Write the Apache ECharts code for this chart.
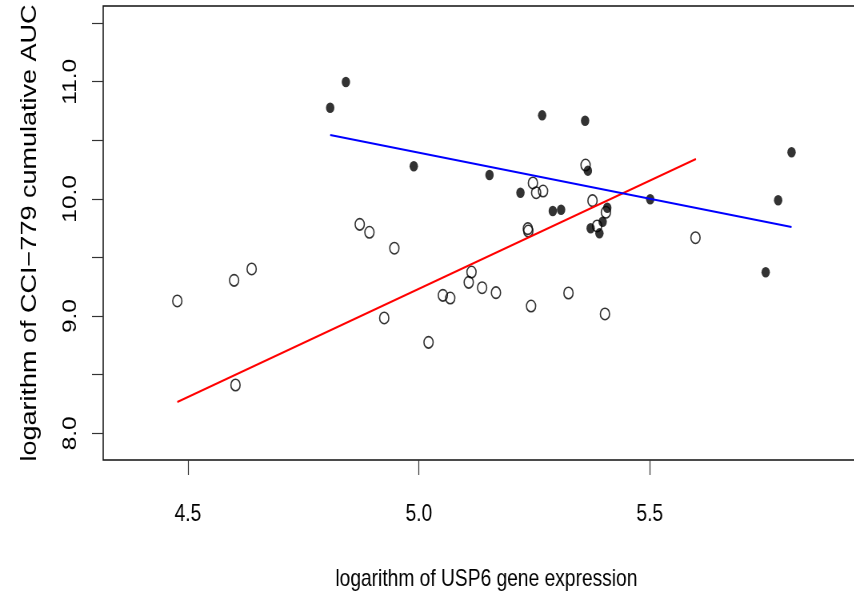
<!DOCTYPE html>
<html>
<head>
<meta charset="utf-8">
<script src="https://cdn.jsdelivr.net/npm/echarts@6/dist/echarts.min.js"></script>
<style>
  html, body { margin: 0; padding: 0; background: #fff; overflow: hidden; }
  /* the original figure is squeezed horizontally; draw wide and scale it down */
  #chart { width: 1100px; height: 597px; transform: scaleX(0.8); transform-origin: 0 0; }
</style>
</head>
<body>
<div id="chart"></div>
<script>
// open circles (group 1)
var openX = [4.477, 4.600, 4.638, 4.603, 4.872, 4.893, 4.947, 4.925, 5.021, 5.052,
             5.068, 5.108, 5.114, 5.137, 5.167, 5.243, 5.324, 5.403, 5.236, 5.237,
             5.247, 5.254, 5.269, 5.361, 5.376, 5.405, 5.386, 5.599];
var openY = [9.129, 9.305, 9.402, 8.412, 9.783, 9.715, 9.579, 8.984, 8.776, 9.177,
             9.154, 9.288, 9.376, 9.242, 9.200, 9.086, 9.197, 9.018, 9.746, 9.726,
             10.136, 10.053, 10.067, 10.289, 9.985, 9.886, 9.769, 9.669];
// filled circles (group 2)
var filledX = [4.808, 4.842, 4.989, 5.153, 5.267, 5.360, 5.366, 5.220, 5.290, 5.308,
               5.408, 5.398, 5.372, 5.391, 5.501, 5.807, 5.778, 5.751];
var filledY = [10.778, 10.997, 10.278, 10.204, 10.713, 10.667, 10.241, 10.053, 9.897, 9.908,
               9.925, 9.805, 9.749, 9.706, 9.997, 10.398, 9.988, 9.374];
// fitted lines
var redLineX = [4.477, 5.600];
var redLineY = [8.267, 10.340];
var blueLineX = [4.808, 5.807];
var blueLineY = [10.545, 9.760];
// ticks
var xTicks = [4.5, 5.0, 5.5];
var yTicks = [8.0, 8.5, 9.0, 9.5, 10.0, 10.5, 11.0, 11.5];
var yLabels = [8.0, 9.0, 10.0, 11.0];

function pairs(xs, ys) {
  return xs.map(function (x, i) { return [x, ys[i]]; });
}

var font = "'Liberation Sans', Arial, sans-serif";

var option = {
  animation: false,
  backgroundColor: "#fff",
  grid: {
    left: 129,
    top: 6,
    width: 958,
    height: 454,
    outerBoundsMode: "none",
    show: true,
    borderColor: "#111",
    borderWidth: 1.5,
    backgroundColor: "transparent"
  },
  xAxis: {
    type: "value",
    min: 4.3165,
    max: 5.976,
    name: "logarithm of USP6 gene expression",
    nameLocation: "middle",
    nameGap: 107,
    nameTextStyle: { fontFamily: font, fontSize: 24, color: "#000" },
    axisLine: { show: false },
    splitLine: { show: false },
    axisTick: {
      show: true,
      length: 15,
      customValues: xTicks,
      lineStyle: { color: "#333", width: 1.2 }
    },
    axisLabel: {
      customValues: xTicks,
      margin: 42,
      fontFamily: font,
      fontSize: 24,
      color: "#000",
      formatter: function (v) { return v.toFixed(1); }
    }
  },
  yAxis: {
    type: "value",
    min: 7.772,
    max: 11.646,
    name: "logarithm of CCI\u2212779 cumulative AUC",
    nameLocation: "middle",
    nameRotate: 90,
    nameGap: 78,
    nameTextStyle: { fontFamily: font, fontSize: 27, color: "#000" },
    axisLine: { show: false },
    splitLine: { show: false },
    axisTick: {
      show: true,
      length: 14,
      customValues: yTicks,
      lineStyle: { color: "#333", width: 1.2 }
    },
    axisLabel: {
      customValues: yLabels,
      rotate: 90,
      margin: 28,
      fontFamily: font,
      fontSize: 24.5,
      color: "#000",
      formatter: function (v) { return v.toFixed(1); }
    }
  },
  series: [
    {
      type: "scatter",
      data: pairs(openX, openY),
      symbol: "circle",
      symbolSize: 11.5,
      itemStyle: { color: "rgba(0,0,0,0)", borderColor: "#000", borderWidth: 1.6 },
      z: 2
    },
    {
      type: "scatter",
      data: pairs(filledX, filledY),
      symbol: "circle",
      symbolSize: 10.5,
      itemStyle: { color: "#000" },
      z: 3
    },
    {
      type: "line",
      data: pairs(redLineX, redLineY),
      showSymbol: false,
      symbol: "none",
      lineStyle: { color: "#ff0000", width: 2 },
      z: 4
    },
    {
      type: "line",
      data: pairs(blueLineX, blueLineY),
      showSymbol: false,
      symbol: "none",
      lineStyle: { color: "#0000ff", width: 2 },
      z: 4
    }
  ]
};

var chart = echarts.init(document.getElementById("chart"));
chart.setOption(option);
</script>
</body>
</html>
